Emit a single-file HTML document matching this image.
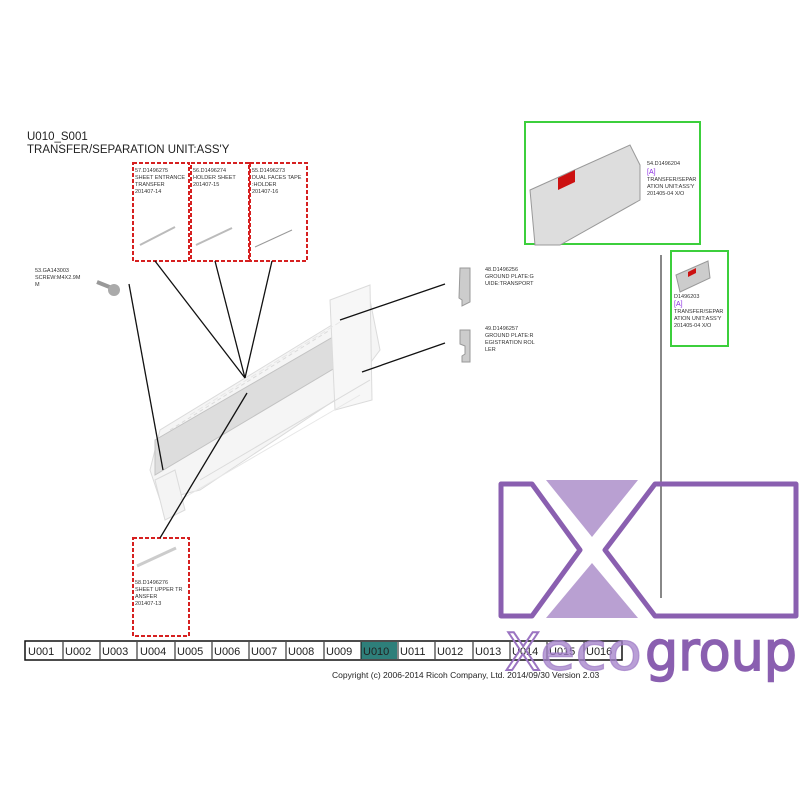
<!DOCTYPE html>
<html><head><meta charset="utf-8"><style>
body{margin:0;background:#fff;width:800px;height:800px;overflow:hidden;font-family:"Liberation Sans",sans-serif}
svg{position:absolute;left:0;top:0}
</style></head><body>
<svg width="800" height="800" viewBox="0 0 800 800" font-family="Liberation Sans, sans-serif">
<text x="27" y="140" font-size="11.5" fill="#222">U010_S001</text>
<text x="27" y="153" font-size="11.5" fill="#222">TRANSFER/SEPARATION UNIT:ASS'Y</text>

<g opacity="0.7">
<polygon points="150,470 160,430 340,320 370,300 380,350 350,390 200,490 160,500" fill="#f2f2f2" stroke="#ccc"/>
<polygon points="155,475 155,440 345,330 345,362" fill="#cfcfcf" stroke="#aaa"/>
<polygon points="330,300 370,285 372,400 335,410" fill="#f4f4f4" stroke="#ccc"/>
<polygon points="155,480 175,470 185,510 165,520" fill="#f0f0f0" stroke="#ccc"/>
<line x1="170" y1="430" x2="330" y2="330" stroke="#ccc" stroke-dasharray="4,3"/>
<line x1="200" y1="480" x2="370" y2="380" stroke="#ccc"/>
<line x1="180" y1="500" x2="360" y2="395" stroke="#ddd"/>
<line x1="190" y1="415" x2="340" y2="322" stroke="#ddd" stroke-dasharray="6,3"/>
</g>

<g fill="none" stroke="#d62020" stroke-width="2" stroke-dasharray="4,2">
<rect x="133" y="163" width="56" height="98"/>
<rect x="191" y="163" width="58" height="98"/>
<rect x="250" y="163" width="57" height="98"/>
<rect x="133" y="538" width="56" height="98"/>
</g>
<g font-size="5.5" fill="#333">
<text x="135" y="172">57.D1496275</text><text x="135" y="179">SHEET ENTRANCE</text><text x="135" y="186"> TRANSFER</text><text x="135" y="193">201407-14</text>
<text x="193" y="172">56.D1496274</text><text x="193" y="179">HOLDER SHEET</text><text x="193" y="186">201407-15</text>
<text x="252" y="172">55.D1496273</text><text x="252" y="179">DUAL FACES TAPE</text><text x="252" y="186">:HOLDER</text><text x="252" y="193">201407-16</text>
<text x="135" y="584">58.D1496276</text><text x="135" y="591">SHEET UPPER TR</text><text x="135" y="598">ANSFER</text><text x="135" y="605">201407-13</text>
<text x="35" y="272">53.GA143003</text><text x="35" y="279">SCREW:M4X2.9M</text><text x="35" y="286">M</text>
<text x="485" y="271">48.D1496256</text><text x="485" y="278">GROUND PLATE:G</text><text x="485" y="285">UIDE:TRANSPORT</text>
<text x="485" y="330">49.D1496257</text><text x="485" y="337">GROUND PLATE:R</text><text x="485" y="344">EGISTRATION ROL</text><text x="485" y="351">LER</text>
</g>
<g stroke="#bbb" stroke-width="2"><line x1="140" y1="245" x2="175" y2="227"/><line x1="196" y1="245" x2="232" y2="228"/></g>
<line x1="255" y1="247" x2="292" y2="230" stroke="#999"/>
<line x1="137" y1="566" x2="176" y2="548" stroke="#ccc" stroke-width="3"/>
<line x1="97" y1="282" x2="112" y2="288" stroke="#999" stroke-width="4"/>
<circle cx="114" cy="290" r="6" fill="#aaa"/>
<path d="M460 268 h10 v34 l-8 4 v-6 l-3 -2z" fill="#ccc" stroke="#999"/>
<path d="M460 330 h10 v32 h-8 v-6 l3-2 v-8 l-5-2z" fill="#ccc" stroke="#999"/>

<g stroke="#111" stroke-width="1.3">
<line x1="155" y1="261" x2="245" y2="378"/>
<line x1="215" y1="261" x2="245" y2="378"/>
<line x1="272" y1="261" x2="245" y2="378"/>
<line x1="129" y1="284" x2="163" y2="470"/>
<line x1="247" y1="393" x2="160" y2="538"/>
<line x1="445" y1="284" x2="340" y2="320"/>
<line x1="445" y1="343" x2="362" y2="372"/>
</g>
<line x1="661" y1="255" x2="661" y2="598" stroke="#111" stroke-width="1"/>

<rect x="525" y="122" width="175" height="122" fill="none" stroke="#3ccf3c" stroke-width="2"/>
<rect x="671" y="251" width="57" height="95" fill="none" stroke="#3ccf3c" stroke-width="2"/>
<polygon points="530,190 630,145 640,165 640,200 560,245 535,245" fill="#ddd" stroke="#999"/>
<polygon points="558,178 575,170 575,182 558,190" fill="#c11"/>
<polygon points="676,275 708,261 710,278 680,292" fill="#ccc" stroke="#999"/>
<polygon points="688,272 696,268 696,273 688,277" fill="#c11"/>
<g font-size="5.5" fill="#333">
<text x="647" y="165">54.D1496204</text>
<text x="647" y="174" fill="#8a2be2" font-size="7">[A]</text>
<text x="647" y="181">TRANSFER/SEPAR</text><text x="647" y="188">ATION UNIT:ASS'Y</text><text x="647" y="195">201405-04 X/O</text>
<text x="674" y="298">D1496203</text>
<text x="674" y="306" fill="#8a2be2" font-size="7">[A]</text>
<text x="674" y="313">TRANSFER/SEPAR</text><text x="674" y="320">ATION UNIT:ASS'Y</text><text x="674" y="327">201405-04 X/O</text>
</g>

<rect x="25" y="641" width="597" height="19" fill="#fff" stroke="#111" stroke-width="1.5"/>
<rect x="361" y="642" width="36" height="17" fill="#2e7f7a"/>
<g font-size="11" fill="#222">
<text x="28" y="655">U001</text><text x="65" y="655">U002</text><text x="102" y="655">U003</text><text x="140" y="655">U004</text>
<text x="177" y="655">U005</text><text x="214" y="655">U006</text><text x="251" y="655">U007</text><text x="288" y="655">U008</text>
<text x="326" y="655">U009</text><text x="363" y="655">U010</text><text x="400" y="655">U011</text><text x="437" y="655">U012</text>
<text x="475" y="655">U013</text><text x="512" y="655">U014</text><text x="549" y="655">U015</text><text x="586" y="655">U016</text>
</g>
<g stroke="#111" stroke-width="1">
<line x1="63" y1="642" x2="63" y2="659"/><line x1="100" y1="642" x2="100" y2="659"/><line x1="137" y1="642" x2="137" y2="659"/>
<line x1="175" y1="642" x2="175" y2="659"/><line x1="212" y1="642" x2="212" y2="659"/><line x1="249" y1="642" x2="249" y2="659"/>
<line x1="286" y1="642" x2="286" y2="659"/><line x1="324" y1="642" x2="324" y2="659"/><line x1="361" y1="642" x2="361" y2="659"/>
<line x1="398" y1="642" x2="398" y2="659"/><line x1="435" y1="642" x2="435" y2="659"/><line x1="473" y1="642" x2="473" y2="659"/>
<line x1="510" y1="642" x2="510" y2="659"/><line x1="547" y1="642" x2="547" y2="659"/><line x1="584" y1="642" x2="584" y2="659"/>
</g>
<text x="332" y="678" font-size="8.5" fill="#222">Copyright (c) 2006-2014 Ricoh Company, Ltd.    2014/09/30 Version 2.03</text>

<g fill="none" stroke="#8a5fb0" stroke-width="5" stroke-linejoin="round">
<polygon points="501,484 532,484 580,550 532,616 501,616"/>
<polygon points="605,550 655,484 796,484 796,616 655,616"/>
</g>
<polygon points="546,480 638,480 592,537" fill="#b9a0d2"/>
<polygon points="546,618 638,618 592,563" fill="#b9a0d2"/>
<text x="505" y="670" font-size="52" fill="none" stroke="#9b74c2" stroke-width="2" font-family="DejaVu Sans, sans-serif">X</text>
<text x="540" y="670" font-size="52" fill="#a27fc8" fill-opacity="0.75" stroke="#a27fc8" stroke-opacity="0.75" stroke-width="1.2" font-family="DejaVu Sans, sans-serif" textLength="102" lengthAdjust="spacingAndGlyphs">eco</text>
<text x="645" y="670" font-size="54" fill="#8a5fb0" stroke="#8a5fb0" stroke-width="1.5" font-family="DejaVu Sans, sans-serif" textLength="152" lengthAdjust="spacingAndGlyphs">group</text>
</svg>
</body></html>
